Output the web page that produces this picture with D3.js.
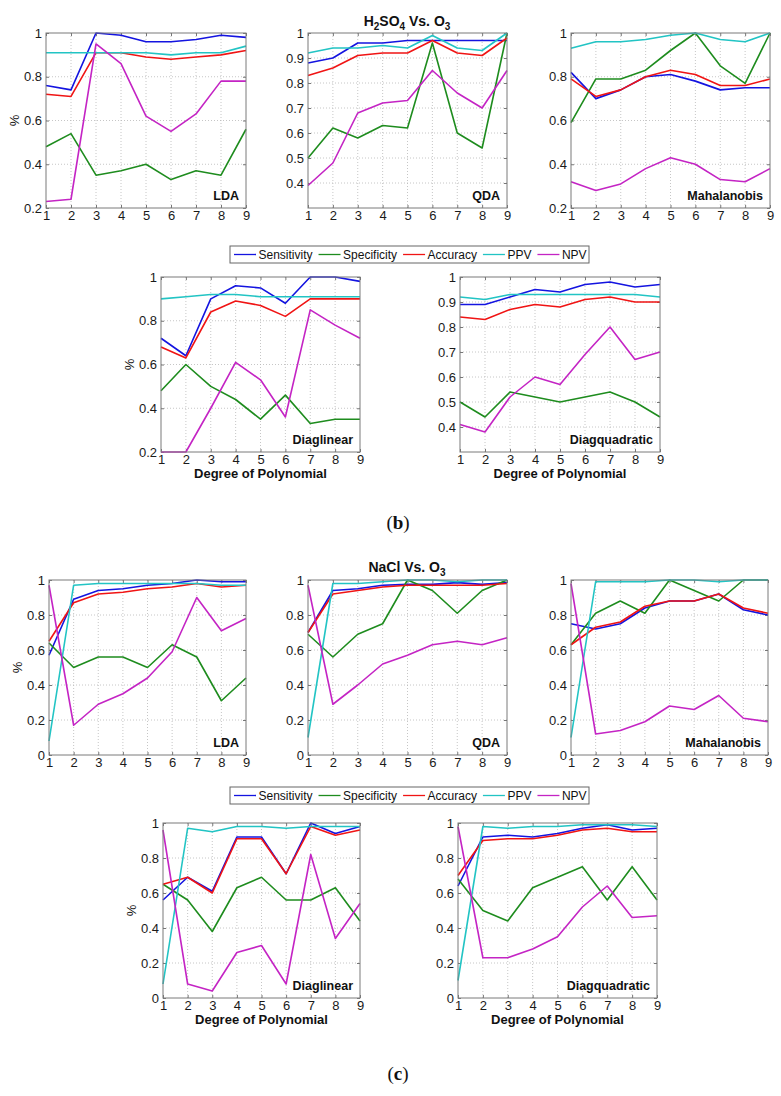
<!DOCTYPE html>
<html><head><meta charset="utf-8">
<script src="https://cdn.jsdelivr.net/npm/d3@7"></script>
<style>body{margin:0;background:#fff} svg{display:block;font-family:"Liberation Sans",Arial,sans-serif}</style>
</head><body><svg id="c" width="781" height="1096"></svg>
<script>
const degrees=[1,2,3,4,5,6,7,8,9];
const seriesNames=["Sensitivity","Specificity","Accuracy","PPV","NPV"];
const seriesColors=["#1414e0","#1e8c1e","#f01414","#22c4c4","#c424c4"];
const ticks02=[0.2,0.4,0.6,0.8,1];
const ticks03=[0.4,0.5,0.6,0.7,0.8,0.9,1];
const ticks0=[0,0.2,0.4,0.6,0.8,1];

// (b) H2SO4 Vs. O3 — rows: Sensitivity, Specificity, Accuracy, PPV, NPV
const bLDA=[
 [0.76,0.74,1.0,0.99,0.96,0.96,0.97,0.99,0.98],
 [0.48,0.54,0.35,0.37,0.40,0.33,0.37,0.35,0.56],
 [0.72,0.71,0.91,0.91,0.89,0.88,0.89,0.90,0.92],
 [0.91,0.91,0.91,0.91,0.91,0.90,0.91,0.91,0.94],
 [0.23,0.24,0.95,0.86,0.62,0.55,0.63,0.78,0.78]];
const bQDA=[
 [0.88,0.90,0.96,0.96,0.97,0.97,0.97,0.97,0.97],
 [0.50,0.62,0.58,0.63,0.62,0.96,0.60,0.54,1.0],
 [0.83,0.86,0.91,0.92,0.92,0.97,0.92,0.91,0.98],
 [0.92,0.94,0.94,0.95,0.94,0.99,0.94,0.93,1.0],
 [0.39,0.48,0.68,0.72,0.73,0.85,0.76,0.70,0.85]];
const bMah=[
 [0.82,0.70,0.74,0.80,0.81,0.78,0.74,0.75,0.75],
 [0.59,0.79,0.79,0.83,0.92,1.0,0.85,0.77,1.0],
 [0.79,0.71,0.74,0.80,0.83,0.81,0.76,0.76,0.79],
 [0.93,0.96,0.96,0.97,0.99,1.0,0.97,0.96,1.0],
 [0.32,0.28,0.31,0.38,0.43,0.40,0.33,0.32,0.38]];
const bDiagLin=[
 [0.72,0.64,0.90,0.96,0.95,0.88,1.0,1.0,0.98],
 [0.48,0.60,0.50,0.44,0.35,0.46,0.33,0.35,0.35],
 [0.68,0.63,0.84,0.89,0.87,0.82,0.90,0.90,0.90],
 [0.90,0.91,0.92,0.92,0.91,0.91,0.91,0.91,0.91],
 [0.20,0.20,0.40,0.61,0.53,0.36,0.85,0.78,0.72]];
const bDiagQuad=[
 [0.89,0.89,0.92,0.95,0.94,0.97,0.98,0.96,0.97],
 [0.50,0.44,0.54,0.52,0.50,0.52,0.54,0.50,0.44],
 [0.84,0.83,0.87,0.89,0.88,0.91,0.92,0.90,0.90],
 [0.92,0.91,0.93,0.93,0.93,0.93,0.93,0.93,0.92],
 [0.41,0.38,0.52,0.60,0.57,0.69,0.80,0.67,0.70]];

// (c) NaCl Vs. O3
const cLDA=[
 [0.57,0.89,0.94,0.95,0.97,0.98,1.0,0.99,0.99],
 [0.64,0.50,0.56,0.56,0.50,0.63,0.56,0.31,0.44],
 [0.65,0.87,0.92,0.93,0.95,0.96,0.98,0.96,0.97],
 [0.08,0.97,0.98,0.98,0.98,0.98,0.98,0.97,0.97],
 [0.97,0.17,0.29,0.35,0.44,0.59,0.90,0.71,0.78]];
const cQDA=[
 [0.70,0.94,0.95,0.97,0.975,0.975,0.985,0.975,0.985],
 [0.69,0.56,0.69,0.75,1.0,0.94,0.81,0.94,1.0],
 [0.70,0.92,0.94,0.96,0.97,0.97,0.97,0.97,0.98],
 [0.10,0.98,0.98,0.99,1.0,1.0,0.99,1.0,1.0],
 [0.97,0.29,0.40,0.52,0.57,0.63,0.65,0.63,0.67]];
const cMah=[
 [0.75,0.72,0.75,0.84,0.88,0.88,0.92,0.83,0.80],
 [0.63,0.81,0.88,0.81,1.0,0.94,0.88,1.0,1.0],
 [0.63,0.73,0.76,0.85,0.88,0.88,0.92,0.84,0.81],
 [0.10,0.99,0.99,0.99,1.0,1.0,0.99,1.0,1.0],
 [0.98,0.12,0.14,0.19,0.28,0.26,0.34,0.21,0.19]];
const cDiagLin=[
 [0.56,0.69,0.61,0.92,0.92,0.71,1.0,0.94,0.98],
 [0.65,0.56,0.38,0.63,0.69,0.56,0.56,0.63,0.44],
 [0.65,0.69,0.60,0.91,0.91,0.71,0.98,0.93,0.96],
 [0.08,0.97,0.95,0.98,0.98,0.97,0.98,0.98,0.98],
 [0.96,0.08,0.04,0.26,0.30,0.08,0.82,0.34,0.54]];
const cDiagQuad=[
 [0.64,0.92,0.93,0.92,0.94,0.97,0.99,0.96,0.97],
 [0.68,0.50,0.44,0.63,0.69,0.75,0.56,0.75,0.56],
 [0.70,0.90,0.91,0.91,0.93,0.96,0.97,0.95,0.95],
 [0.10,0.98,0.97,0.98,0.98,0.99,0.99,0.99,0.98],
 [0.98,0.23,0.23,0.28,0.35,0.52,0.64,0.46,0.47]];

const panels=[
 {data:bLDA,label:"LDA",dom:[0.2,1],ticks:ticks02,box:[46,246,33,208],ylab:true,xlab:false},
 {data:bQDA,label:"QDA",dom:[0.3,1],ticks:ticks03,box:[308,507,33,208],ylab:false,xlab:false},
 {data:bMah,label:"Mahalanobis",dom:[0.2,1],ticks:ticks02,box:[571,770,33,208],ylab:false,xlab:false},
 {data:bDiagLin,label:"Diaglinear",dom:[0.2,1],ticks:ticks02,box:[161,360,277,452],ylab:true,xlab:true},
 {data:bDiagQuad,label:"Diagquadratic",dom:[0.3,1],ticks:ticks03,box:[460,660,277,452],ylab:false,xlab:true},
 {data:cLDA,label:"LDA",dom:[0,1],ticks:ticks0,box:[49,246,580,755],ylab:true,xlab:false},
 {data:cQDA,label:"QDA",dom:[0,1],ticks:ticks0,box:[308,507,580,755],ylab:false,xlab:false},
 {data:cMah,label:"Mahalanobis",dom:[0,1],ticks:ticks0,box:[571,768,580,755],ylab:false,xlab:false},
 {data:cDiagLin,label:"Diaglinear",dom:[0,1],ticks:ticks0,box:[163,360,823,998],ylab:true,xlab:true},
 {data:cDiagQuad,label:"Diagquadratic",dom:[0,1],ticks:ticks0,box:[458,657,823,998],ylab:false,xlab:true}
];

const svg=d3.select("#c");
const fmt=d=>d===0?"0":d===1?"1":d3.format(".1f")(d);

panels.forEach(p=>{
  const [l,r,t,b]=p.box;
  const x=d3.scaleLinear().domain([1,9]).range([l,r]);
  const y=d3.scaleLinear().domain(p.dom).range([b,t]);
  const g=svg.append("g");
  // grid
  g.selectAll(".gx").data(degrees.slice(1,-1)).join("line")
    .attr("x1",d=>x(d)).attr("x2",d=>x(d)).attr("y1",t).attr("y2",b)
    .attr("stroke","#b8b8b8").attr("stroke-dasharray","1,2").attr("stroke-width",0.8);
  g.selectAll(".gy").data(p.ticks.filter(v=>v>p.dom[0]&&v<p.dom[1])).join("line")
    .attr("x1",l).attr("x2",r).attr("y1",d=>y(d)).attr("y2",d=>y(d))
    .attr("stroke","#b8b8b8").attr("stroke-dasharray","1,2").attr("stroke-width",0.8);
  // axes
  g.append("g").attr("transform",`translate(0,${b})`)
    .call(d3.axisBottom(x).tickValues(degrees).tickFormat(d3.format("d")).tickSizeInner(-3).tickSizeOuter(0).tickPadding(3));
  g.append("g").attr("transform",`translate(${l},0)`)
    .call(d3.axisLeft(y).tickValues(p.ticks).tickFormat(fmt).tickSizeInner(-3).tickSizeOuter(0).tickPadding(4));
  g.append("g").attr("transform",`translate(0,${t})`)
    .call(d3.axisTop(x).tickValues(degrees).tickFormat("").tickSizeInner(-3).tickSizeOuter(0));
  g.append("g").attr("transform",`translate(${r},0)`)
    .call(d3.axisRight(y).tickValues(p.ticks).tickFormat("").tickSizeInner(-3).tickSizeOuter(0));
  g.selectAll(".domain").remove();
  g.selectAll(".tick line").attr("stroke","#777");
  g.selectAll(".tick text").attr("font-size",13).attr("fill","#1a1a1a").attr("font-family","Liberation Sans, Arial, sans-serif");
  // lines
  const line=d3.line().x((d,i)=>x(degrees[i])).y(d=>y(d));
  p.data.forEach((s,k)=>{
    g.append("path").datum(s).attr("d",line).attr("fill","none")
      .attr("stroke",seriesColors[k]).attr("stroke-width",1.6).attr("stroke-linejoin","round");
  });
  // box
  g.append("rect").attr("x",l).attr("y",t).attr("width",r-l).attr("height",b-t)
    .attr("fill","none").attr("stroke","#7a7a7a").attr("stroke-width",1);
  // label
  g.append("text").attr("x",r-7).attr("y",b-8).attr("text-anchor","end")
    .attr("font-size",12.5).attr("font-weight","bold").attr("fill","#111").text(p.label);
  if(p.ylab){
    g.append("text").attr("transform",`translate(${l-27},${(t+b)/2}) rotate(-90)`)
      .attr("text-anchor","middle").attr("font-size",13).attr("fill","#111").text("%");
  }
  if(p.xlab){
    g.append("text").attr("x",(l+r)/2).attr("y",b+25.5).attr("text-anchor","middle")
      .attr("font-size",13).attr("font-weight","bold").attr("fill","#111").text("Degree of Polynomial");
  }
});

// titles
function title(yb,parts){
  const t=svg.append("text").attr("x",407).attr("y",yb).attr("text-anchor","middle")
    .attr("font-size",14).attr("font-weight","bold").attr("fill","#111");
  let shift=0;
  parts.forEach(([s,sub])=>{
    const target=sub?4:0;
    t.append("tspan").attr("dy",target-shift).attr("font-size",sub?10:14).text(s);
    shift=target;
  });
}
title(26,[["H",0],["2",1],["SO",0],["4",1],[" Vs. O",0],["3",1]]);
title(572,[["NaCl Vs. O",0],["3",1]]);

// legends
function legend(top){
  const h=17, x0=230, x1=589;
  const lg=svg.append("g");
  lg.append("rect").attr("x",x0).attr("y",top).attr("width",x1-x0).attr("height",h)
    .attr("fill","#fff").attr("stroke","#666").attr("stroke-width",1);
  let cx=x0+4;
  seriesNames.forEach((n,k)=>{
    lg.append("line").attr("x1",cx).attr("x2",cx+22).attr("y1",top+h/2).attr("y2",top+h/2)
      .attr("stroke",seriesColors[k]).attr("stroke-width",1.3);
    const tx=lg.append("text").attr("x",cx+24.5).attr("y",top+h/2+4.3).attr("font-size",12).attr("fill","#111").text(n);
    cx=cx+24.5+tx.node().getComputedTextLength()+6;
  });
}
legend(246);
legend(787);

// captions
function caption(yb,letter){
  const t=svg.append("text").attr("x",398).attr("y",yb).attr("text-anchor","middle")
    .attr("font-family","Liberation Serif, Times New Roman, serif").attr("font-size",19).attr("fill","#111");
  t.append("tspan").text("(");
  t.append("tspan").attr("font-weight","bold").text(letter);
  t.append("tspan").text(")");
}
caption(529,"b");
caption(1080,"c");
</script></body></html>
